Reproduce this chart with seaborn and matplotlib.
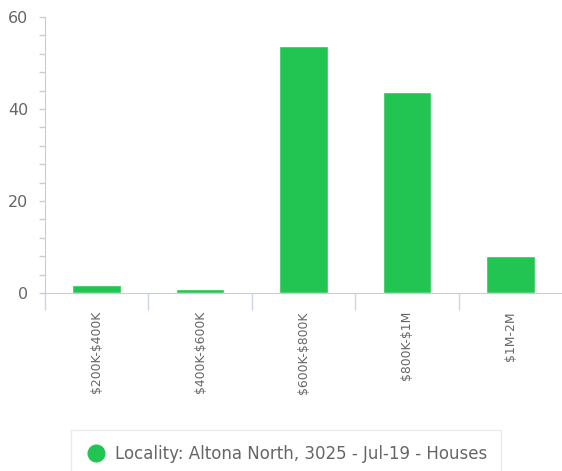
import matplotlib
matplotlib.use("Agg")
import matplotlib.pyplot as plt
from matplotlib.lines import Line2D
from matplotlib.ticker import MultipleLocator, FixedLocator
import seaborn as sns
import pandas as pd

# values
price_bands = ["$200K-$400K", "$400K-$600K", "$600K-$800K", "$800K-$1M", "$1M-2M"]
shares = [1.8, 0.9, 53.6, 43.7, 8.0]
series_name = "Locality: Altona North, 3025 - Jul-19 - Houses"

df = pd.DataFrame({"band": price_bands, "share": shares})

sns.set_style("white")
plt.rcParams["font.family"] = ["DejaVu Sans"]
plt.rcParams["text.parse_math"] = False  # keep the dollar signs literal

green = "#23c552"
grey_text = "#666666"

fig = plt.figure(figsize=(5.62, 4.71), dpi=100)
ax = fig.add_axes([0.080, 0.378, 0.92, 0.586])

sns.barplot(data=df, x="band", y="share", color=green, width=0.47,
            saturation=1, ax=ax)

ax.set_xlim(-0.5, 4.5)
ax.set_ylim(0, 60)
ax.set_xlabel("")
ax.set_ylabel("")

# y axis: major every 20, minor every 4
ax.yaxis.set_major_locator(MultipleLocator(20))
ax.yaxis.set_minor_locator(MultipleLocator(4))
ax.tick_params(axis="y", which="both", left=True, length=4, width=1,
               color="#cccccc", labelsize=11.5, labelcolor=grey_text, pad=8)

# x axis: labels at category centres, tick marks at category boundaries
ax.tick_params(axis="x", which="major", length=0, pad=13,
               labelsize=8.9, labelcolor=grey_text, labelrotation=90)
ax.xaxis.set_minor_locator(FixedLocator([-0.5, 0.5, 1.5, 2.5, 3.5]))
ax.tick_params(axis="x", which="minor", bottom=True, length=12, width=1,
               color="#ccd6eb")

for side in ["top", "right"]:
    ax.spines[side].set_visible(False)
ax.spines["left"].set_color("#cccccc")
ax.spines["bottom"].set_color("#cccccc")

handle = Line2D([], [], marker="o", linestyle="", markersize=12,
                markerfacecolor=green, markeredgecolor=green)
leg = fig.legend([handle], [series_name], loc="lower center",
                 bbox_to_anchor=(0.509, -0.03), frameon=True, fancybox=False,
                 fontsize=12, borderpad=0.85, handletextpad=0.45,
                 handlelength=1.3, labelcolor=grey_text)
leg.get_frame().set_edgecolor("#e6e6e6")
leg.get_frame().set_linewidth(1)

fig.savefig("out.png", dpi=100)
